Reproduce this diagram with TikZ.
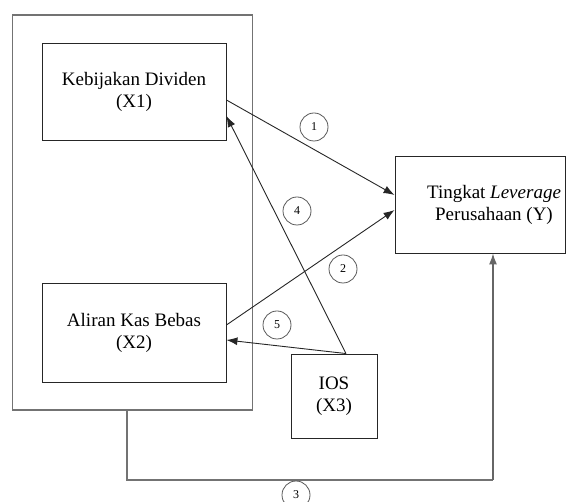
\documentclass[tikz,border=0pt]{standalone}
\usepackage{fontspec}
\setmainfont{Liberation Serif}
\usetikzlibrary{arrows.meta}
\tikzset{
  varbox/.style={draw=black!85, line width=0.9pt, align=center, font=\fontsize{19}{22}\selectfont, inner sep=0pt},
  numcirc/.style={circle, draw=black!65, line width=0.8pt, minimum size=28pt, inner sep=0pt, font=\fontsize{12}{12}\selectfont},
  link/.style={draw=black!85, line width=0.9pt, -{Latex[length=11pt,width=8pt]}},
  frame/.style={draw=black!55, line width=1.6pt},
}
\begin{document}
\begin{tikzpicture}[x=1pt,y=-1pt]
\useasboundingbox (0,0) rectangle (582,502);
\node[frame, minimum width=240pt, minimum height=395pt] (outer) at (132.5,212.5) {};
\node[varbox, minimum width=184pt, minimum height=97pt] (X1) at (134,91.5) {Kebijakan Dividen\\(X1)};
\node[varbox, minimum width=184pt, minimum height=99pt] (X2) at (134,332.5) {Aliran Kas Bebas\\(X2)};
\node[varbox, minimum width=170pt, minimum height=97pt,
  label={[align=center, font=\fontsize{19}{22}\selectfont, xshift=14pt, inner sep=0pt]center:Tingkat \textit{Leverage}\\Perusahaan (Y)}] (Y) at (480,204.5) {};
\node[varbox, minimum width=86pt, minimum height=84pt] (X3) at (334,396) {IOS\\(X3)};
\coordinate (c3a) at (127,480);
\coordinate (c3b) at (493,480);
\draw[link] ([yshift=-8.5pt]X1.east) -- ([yshift=9.5pt]Y.west);
\draw[link] ([yshift=7.5pt]X2.east) -- ([yshift=-5.5pt]Y.west);
\draw[link] ([xshift=12pt]X3.north) -- ([yshift=-24.5pt]X1.east);
\draw[link] ([xshift=12pt]X3.north) -- ([yshift=-7.5pt]X2.east);
\draw[frame, line width=1.3pt] ([xshift=-5.5pt]outer.south) -- (c3a) -- (c3b);
\draw[link, draw=black!60, line width=1.3pt] (c3b) -- ([xshift=13pt]Y.south);
\node[numcirc] (n1) at (314,127) {1};
\node[numcirc] (n2) at (343,269) {2};
\node[numcirc] (n3) at (296,495) {3};
\node[numcirc] (n4) at (297,211) {4};
\node[numcirc] (n5) at (277,325) {5};
\end{tikzpicture}
\end{document}
